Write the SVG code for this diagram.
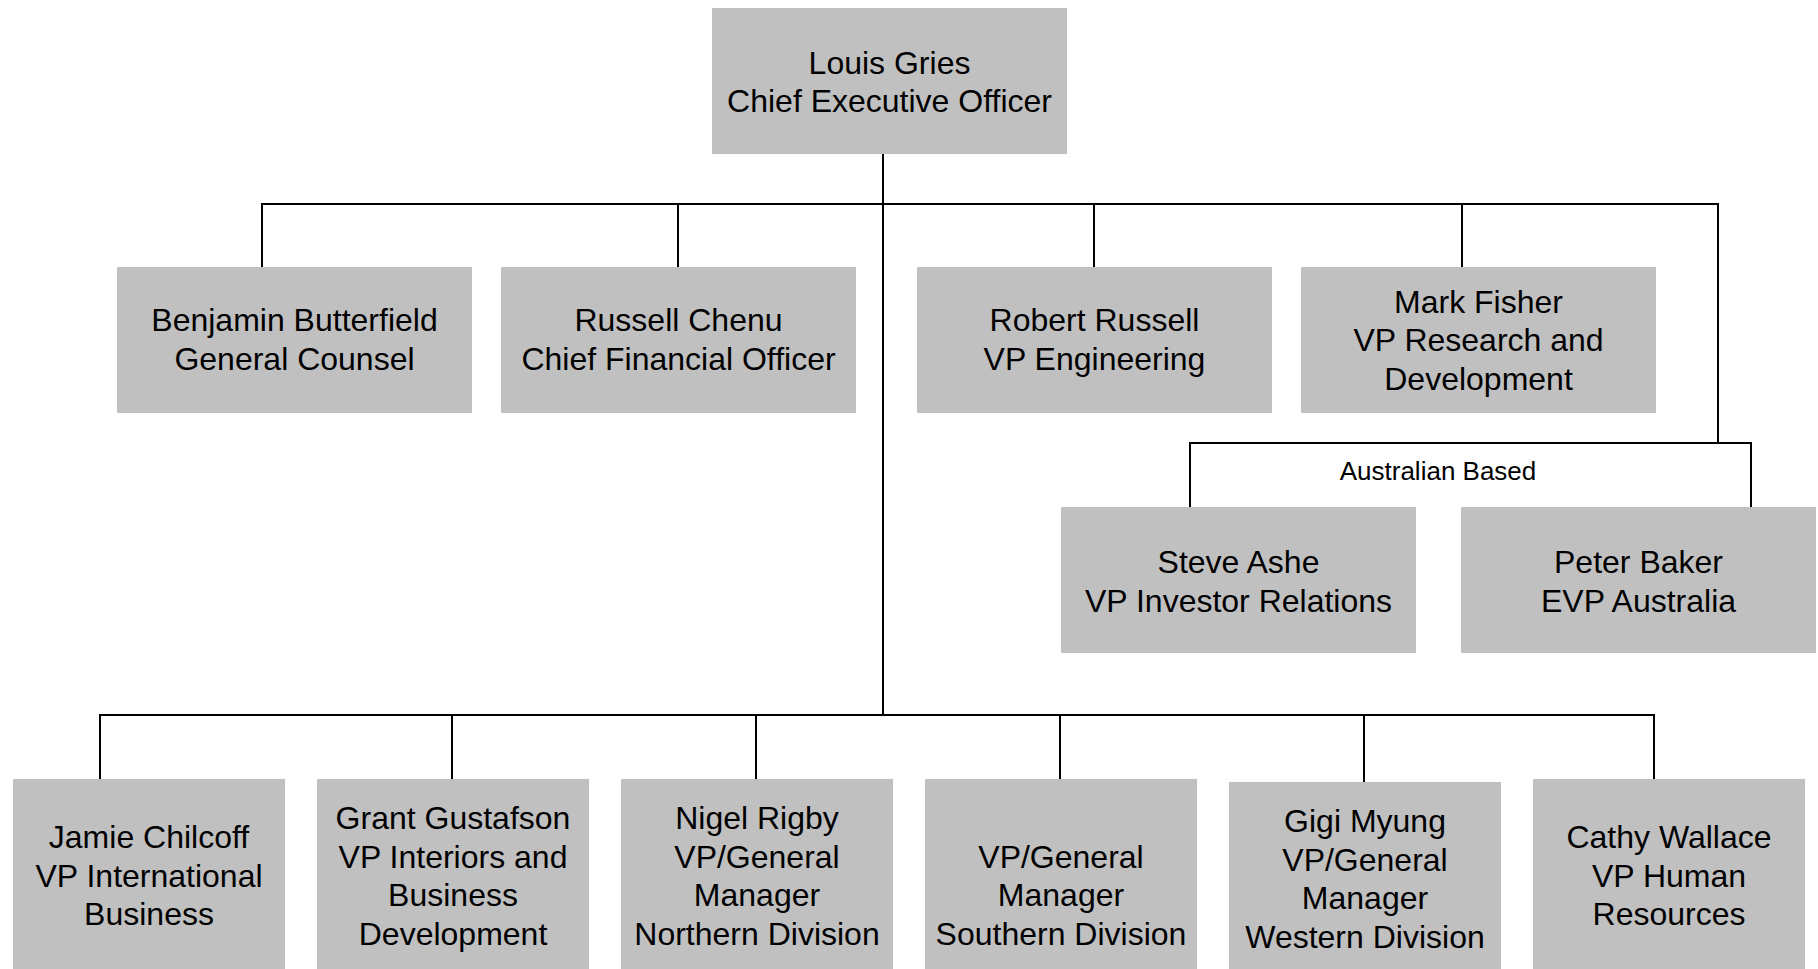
<svg xmlns="http://www.w3.org/2000/svg" width="1818" height="969" viewBox="0 0 1818 969">
<style>
.box{fill:#c0c0c0;}
.t{font-family:"Liberation Sans",Arial,sans-serif;font-size:32px;fill:#000;text-anchor:middle;}
.lbl{font-family:"Liberation Sans",Arial,sans-serif;font-size:26px;fill:#000;text-anchor:middle;}
.c{stroke:#000;stroke-width:2;fill:none;stroke-linecap:square;}
</style>
<rect width="1818" height="969" fill="#fff"/>
<g id="connectors">
<path class="c" d="M883,154 V715"/>
<path class="c" d="M262,204 H1718 V443"/>
<path class="c" d="M262,204 V267 M678,204 V267 M1094,204 V267 M1462,204 V267"/>
<path class="c" d="M1190,507 V443 H1751 V507"/>
<path class="c" d="M100,715 H1654"/>
<path class="c" d="M100,715 V779 M452,715 V779 M756,715 V779 M1060,715 V779 M1364,715 V782 M1654,715 V779"/>
<text class="lbl" x="1438" y="480">Australian Based</text>
</g>
<g id="ceo">
<rect class="box" x="712" y="8" width="355" height="146"/>
<text class="t" x="889.5" y="74">Louis Gries</text>
<text class="t" x="889.5" y="112">Chief Executive Officer</text>
</g>
<g id="butterfield">
<rect class="box" x="117" y="267" width="355" height="146"/>
<text class="t" x="294.5" y="331">Benjamin Butterfield</text>
<text class="t" x="294.5" y="369.5">General Counsel</text>
</g>
<g id="chenu">
<rect class="box" x="501" y="267" width="355" height="146"/>
<text class="t" x="678.5" y="331">Russell Chenu</text>
<text class="t" x="678.5" y="369.5">Chief Financial Officer</text>
</g>
<g id="russell">
<rect class="box" x="917" y="267" width="355" height="146"/>
<text class="t" x="1094.5" y="331">Robert Russell</text>
<text class="t" x="1094.5" y="369.5">VP Engineering</text>
</g>
<g id="fisher">
<rect class="box" x="1301" y="267" width="355" height="146"/>
<text class="t" x="1478.5" y="312.5">Mark Fisher</text>
<text class="t" x="1478.5" y="351">VP Research and</text>
<text class="t" x="1478.5" y="389.5">Development</text>
</g>
<g id="ashe">
<rect class="box" x="1061" y="507" width="355" height="146"/>
<text class="t" x="1238.5" y="573">Steve Ashe</text>
<text class="t" x="1238.5" y="611.5">VP Investor Relations</text>
</g>
<g id="baker">
<rect class="box" x="1461" y="507" width="355" height="146"/>
<text class="t" x="1638.5" y="573">Peter Baker</text>
<text class="t" x="1638.5" y="611.5">EVP Australia</text>
</g>
<g id="chilcoff">
<rect class="box" x="13" y="779" width="272" height="192"/>
<text class="t" x="149" y="848">Jamie Chilcoff</text>
<text class="t" x="149" y="886.5">VP International</text>
<text class="t" x="149" y="925">Business</text>
</g>
<g id="gustafson">
<rect class="box" x="317" y="779" width="272" height="192"/>
<text class="t" x="453" y="829">Grant Gustafson</text>
<text class="t" x="453" y="867.5">VP Interiors and</text>
<text class="t" x="453" y="906">Business</text>
<text class="t" x="453" y="944.5">Development</text>
</g>
<g id="rigby">
<rect class="box" x="621" y="779" width="272" height="192"/>
<text class="t" x="757" y="829">Nigel Rigby</text>
<text class="t" x="757" y="867.5">VP/General</text>
<text class="t" x="757" y="906">Manager</text>
<text class="t" x="757" y="944.5">Northern Division</text>
</g>
<g id="southern">
<rect class="box" x="925" y="779" width="272" height="192"/>
<text class="t" x="1061" y="867.5">VP/General</text>
<text class="t" x="1061" y="906">Manager</text>
<text class="t" x="1061" y="944.5">Southern Division</text>
</g>
<g id="myung">
<rect class="box" x="1229" y="782" width="272" height="192"/>
<text class="t" x="1365" y="832">Gigi Myung</text>
<text class="t" x="1365" y="870.5">VP/General</text>
<text class="t" x="1365" y="909">Manager</text>
<text class="t" x="1365" y="947.5">Western Division</text>
</g>
<g id="wallace">
<rect class="box" x="1533" y="779" width="272" height="192"/>
<text class="t" x="1669" y="848">Cathy Wallace</text>
<text class="t" x="1669" y="886.5">VP Human</text>
<text class="t" x="1669" y="925">Resources</text>
</g>
</svg>
